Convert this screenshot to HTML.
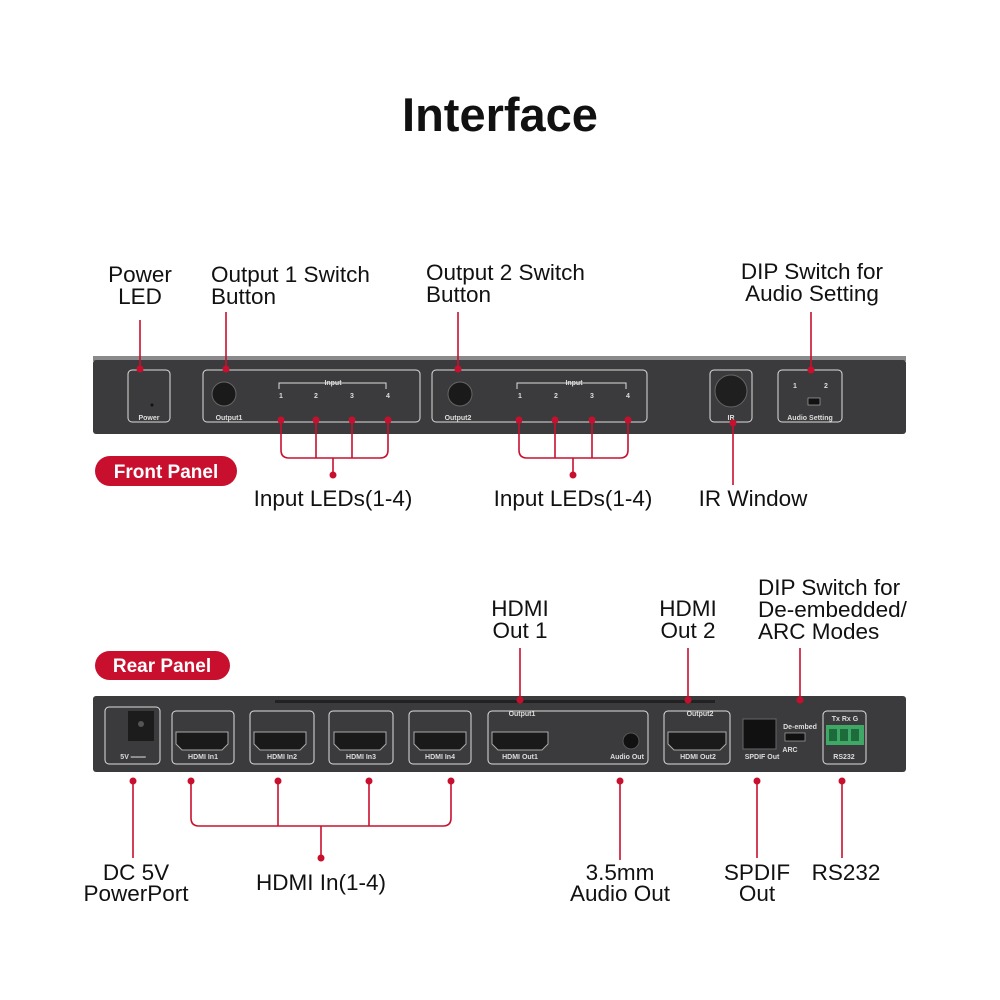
<!DOCTYPE html>
<html><head><meta charset="utf-8"><style>
html,body{margin:0;padding:0;background:#fff;}
svg{display:block}
.l{font-family:"Liberation Sans",sans-serif;font-size:22.5px;fill:#111;}
.s{font-family:"Liberation Sans",sans-serif;font-size:7px;fill:#ddd;font-weight:bold}
.r{stroke:#c8102e;stroke-width:1.6;fill:none}
.w{stroke:#ddd;stroke-width:1;fill:none}
</style></head><body>
<svg width="1000" height="1000" viewBox="0 0 1000 1000">
<text x="500" y="131" text-anchor="middle" font-family="Liberation Sans,sans-serif" font-weight="bold" font-size="47" fill="#111">Interface</text>

<!-- front labels -->
<g class="l" text-anchor="middle">
<text x="140" y="282">Power</text><text x="140" y="304">LED</text>
<text x="812" y="279">DIP Switch for</text><text x="812" y="301">Audio Setting</text>
<text x="333" y="506">Input LEDs(1-4)</text>
<text x="573" y="506">Input LEDs(1-4)</text>
<text x="753" y="506">IR Window</text>
</g>
<g class="l"><text x="211" y="282">Output 1 Switch</text><text x="211" y="304">Button</text>
<text x="426" y="280">Output 2 Switch</text><text x="426" y="302">Button</text></g>

<!-- front panel -->
<rect x="93" y="356" width="813" height="5" fill="#8a8a8c"/>
<rect x="93" y="360" width="813" height="74" rx="3" fill="#3b3b3d"/>
<g class="w">
<rect x="128" y="370" width="42" height="52" rx="4"/>
<rect x="203" y="370" width="217" height="52" rx="4"/>
<rect x="432" y="370" width="215" height="52" rx="4"/>
<rect x="710" y="370" width="42" height="52" rx="4"/>
<rect x="778" y="370" width="64" height="52" rx="4"/>
<path d="M279 389v-6h107v6M517 389v-6h109v6"/>
</g>
<circle cx="224" cy="394" r="12" fill="#1a1a1a" stroke="#666"/>
<circle cx="460" cy="394" r="12" fill="#1a1a1a" stroke="#666"/>
<circle cx="731" cy="391" r="16" fill="#1f1f1f" stroke="#666"/>
<rect x="808" y="398" width="12" height="7" fill="#111" stroke="#bbb" stroke-width=".6"/>
<g class="s" text-anchor="middle">
<text x="149" y="420">Power</text>
<text x="229" y="420">Output1</text><text x="458" y="420">Output2</text>
<text x="333" y="385">Input</text><text x="574" y="385">Input</text>
<text x="281" y="398">1</text><text x="316" y="398">2</text><text x="352" y="398">3</text><text x="388" y="398">4</text>
<text x="520" y="398">1</text><text x="556" y="398">2</text><text x="592" y="398">3</text><text x="628" y="398">4</text>
<text x="731" y="420">IR</text><text x="810" y="420">Audio Setting</text>
<text x="795" y="388">1</text><text x="826" y="388">2</text>
</g>
<g fill="#111"><circle cx="152" cy="405" r="1.5"/></g>

<g class="r">
<path d="M140 320V369M226 312V369M458 312V369M811 312V370"/>
<path d="M281 420v30q0 8 8 8h91q8 0 8-8v-30M316 420v38M352 420v38M333 458v17"/>
<path d="M519 420v30q0 8 8 8h93q8 0 8-8v-30M555 420v38M592 420v38M573 458v17"/>
<path d="M733 423v62"/>
</g>
<g fill="#c8102e">
<circle cx="140" cy="369" r="3.5"/><circle cx="226" cy="369" r="3.5"/><circle cx="458" cy="369" r="3.5"/><circle cx="811" cy="370" r="3.5"/>
<circle cx="281" cy="420" r="3.5"/><circle cx="316" cy="420" r="3.5"/><circle cx="352" cy="420" r="3.5"/><circle cx="388" cy="420" r="3.5"/>
<circle cx="519" cy="420" r="3.5"/><circle cx="555" cy="420" r="3.5"/><circle cx="592" cy="420" r="3.5"/><circle cx="628" cy="420" r="3.5"/>
<circle cx="333" cy="475" r="3.5"/><circle cx="573" cy="475" r="3.5"/><circle cx="733" cy="423" r="3.5"/>
</g>
<rect x="95" y="456" width="142" height="30" rx="15" fill="#c8102e"/>
<text x="166" y="478" text-anchor="middle" font-family="Liberation Sans,sans-serif" font-size="19" font-weight="bold" fill="#fff">Front Panel</text>

<!-- rear labels -->
<g class="l" text-anchor="middle">
<text x="520" y="616">HDMI</text><text x="520" y="638">Out 1</text>
<text x="688" y="616">HDMI</text><text x="688" y="638">Out 2</text>
<text x="136" y="880">DC 5V</text><text x="136" y="901">PowerPort</text>
<text x="321" y="890">HDMI In(1-4)</text>
<text x="620" y="880">3.5mm</text><text x="620" y="901">Audio Out</text>
<text x="757" y="880">SPDIF</text><text x="757" y="901">Out</text>
<text x="846" y="880">RS232</text>
</g>
<g class="l"><text x="758" y="595">DIP Switch for</text><text x="758" y="617">De-embedded/</text><text x="758" y="639">ARC Modes</text></g>
<rect x="95" y="651" width="135" height="29" rx="14.5" fill="#c8102e"/>
<text x="162" y="672" text-anchor="middle" font-family="Liberation Sans,sans-serif" font-size="19" font-weight="bold" fill="#fff">Rear Panel</text>

<!-- rear panel -->
<rect x="93" y="696" width="813" height="76" rx="3" fill="#3b3b3d"/>
<rect x="275" y="700" width="440" height="3" fill="#222"/>
<g class="w">
<rect x="105" y="707" width="55" height="57" rx="4"/>
<rect x="172" y="711" width="62" height="53" rx="4"/>
<rect x="250" y="711" width="64" height="53" rx="4"/>
<rect x="329" y="711" width="64" height="53" rx="4"/>
<rect x="409" y="711" width="62" height="53" rx="4"/>
<rect x="488" y="711" width="160" height="53" rx="4"/>
<rect x="664" y="711" width="66" height="53" rx="4"/>
<rect x="823" y="711" width="43" height="53" rx="4"/>
</g>
<rect x="128" y="711" width="26" height="30" fill="#1c1c1c"/><circle cx="141" cy="724" r="3" fill="#555"/>
<g fill="#1a1a1a" stroke="#aaa" stroke-width="1">
<path d="M176 732h52v12l-6 6h-40l-6-6z"/>
<path d="M254 732h52v12l-6 6h-40l-6-6z"/>
<path d="M334 732h52v12l-6 6h-40l-6-6z"/>
<path d="M414 732h52v12l-6 6h-40l-6-6z"/>
<path d="M492 732h56v12l-6 6h-44l-6-6z"/>
<path d="M668 732h58v12l-6 6h-46l-6-6z"/>
</g>
<circle cx="631" cy="741" r="8" fill="#111" stroke="#555"/>
<rect x="743" y="719" width="33" height="30" fill="#111" stroke="#666"/>
<rect x="785" y="733" width="20" height="8" fill="#111" stroke="#bbb" stroke-width=".6"/>
<rect x="826" y="725" width="38" height="20" fill="#3fa866"/>
<g fill="#1d6b3a"><rect x="829" y="729" width="8" height="12"/><rect x="840" y="729" width="8" height="12"/><rect x="851" y="729" width="8" height="12"/></g>
<g class="s" text-anchor="middle">
<text x="133" y="759">5V ═══</text>
<text x="203" y="759">HDMI In1</text><text x="282" y="759">HDMI In2</text><text x="361" y="759">HDMI In3</text><text x="440" y="759">HDMI In4</text>
<text x="520" y="759">HDMI Out1</text><text x="627" y="759">Audio Out</text>
<text x="698" y="759">HDMI Out2</text><text x="762" y="759">SPDIF Out</text><text x="844" y="759">RS232</text>
<text x="522" y="716">Output1</text><text x="700" y="716">Output2</text>
<text x="800" y="729">De-embed</text><text x="790" y="752">ARC</text>
<text x="845" y="721">Tx Rx G</text>
</g>
<g class="r">
<path d="M520 648V700M688 648V700M800 648V700"/>
<path d="M133 781V858M620 781V860M757 781V858M842 781V858"/>
<path d="M191 781v37q0 8 8 8h244q8 0 8-8v-37M278 781v45M369 781v45M321 826v32"/>
</g>
<g fill="#c8102e">
<circle cx="520" cy="700" r="3.5"/><circle cx="688" cy="700" r="3.5"/><circle cx="800" cy="700" r="3.5"/>
<circle cx="133" cy="781" r="3.5"/><circle cx="191" cy="781" r="3.5"/><circle cx="278" cy="781" r="3.5"/><circle cx="369" cy="781" r="3.5"/><circle cx="451" cy="781" r="3.5"/>
<circle cx="620" cy="781" r="3.5"/><circle cx="757" cy="781" r="3.5"/><circle cx="842" cy="781" r="3.5"/><circle cx="321" cy="858" r="3.5"/>
</g>
</svg>
</body></html>
